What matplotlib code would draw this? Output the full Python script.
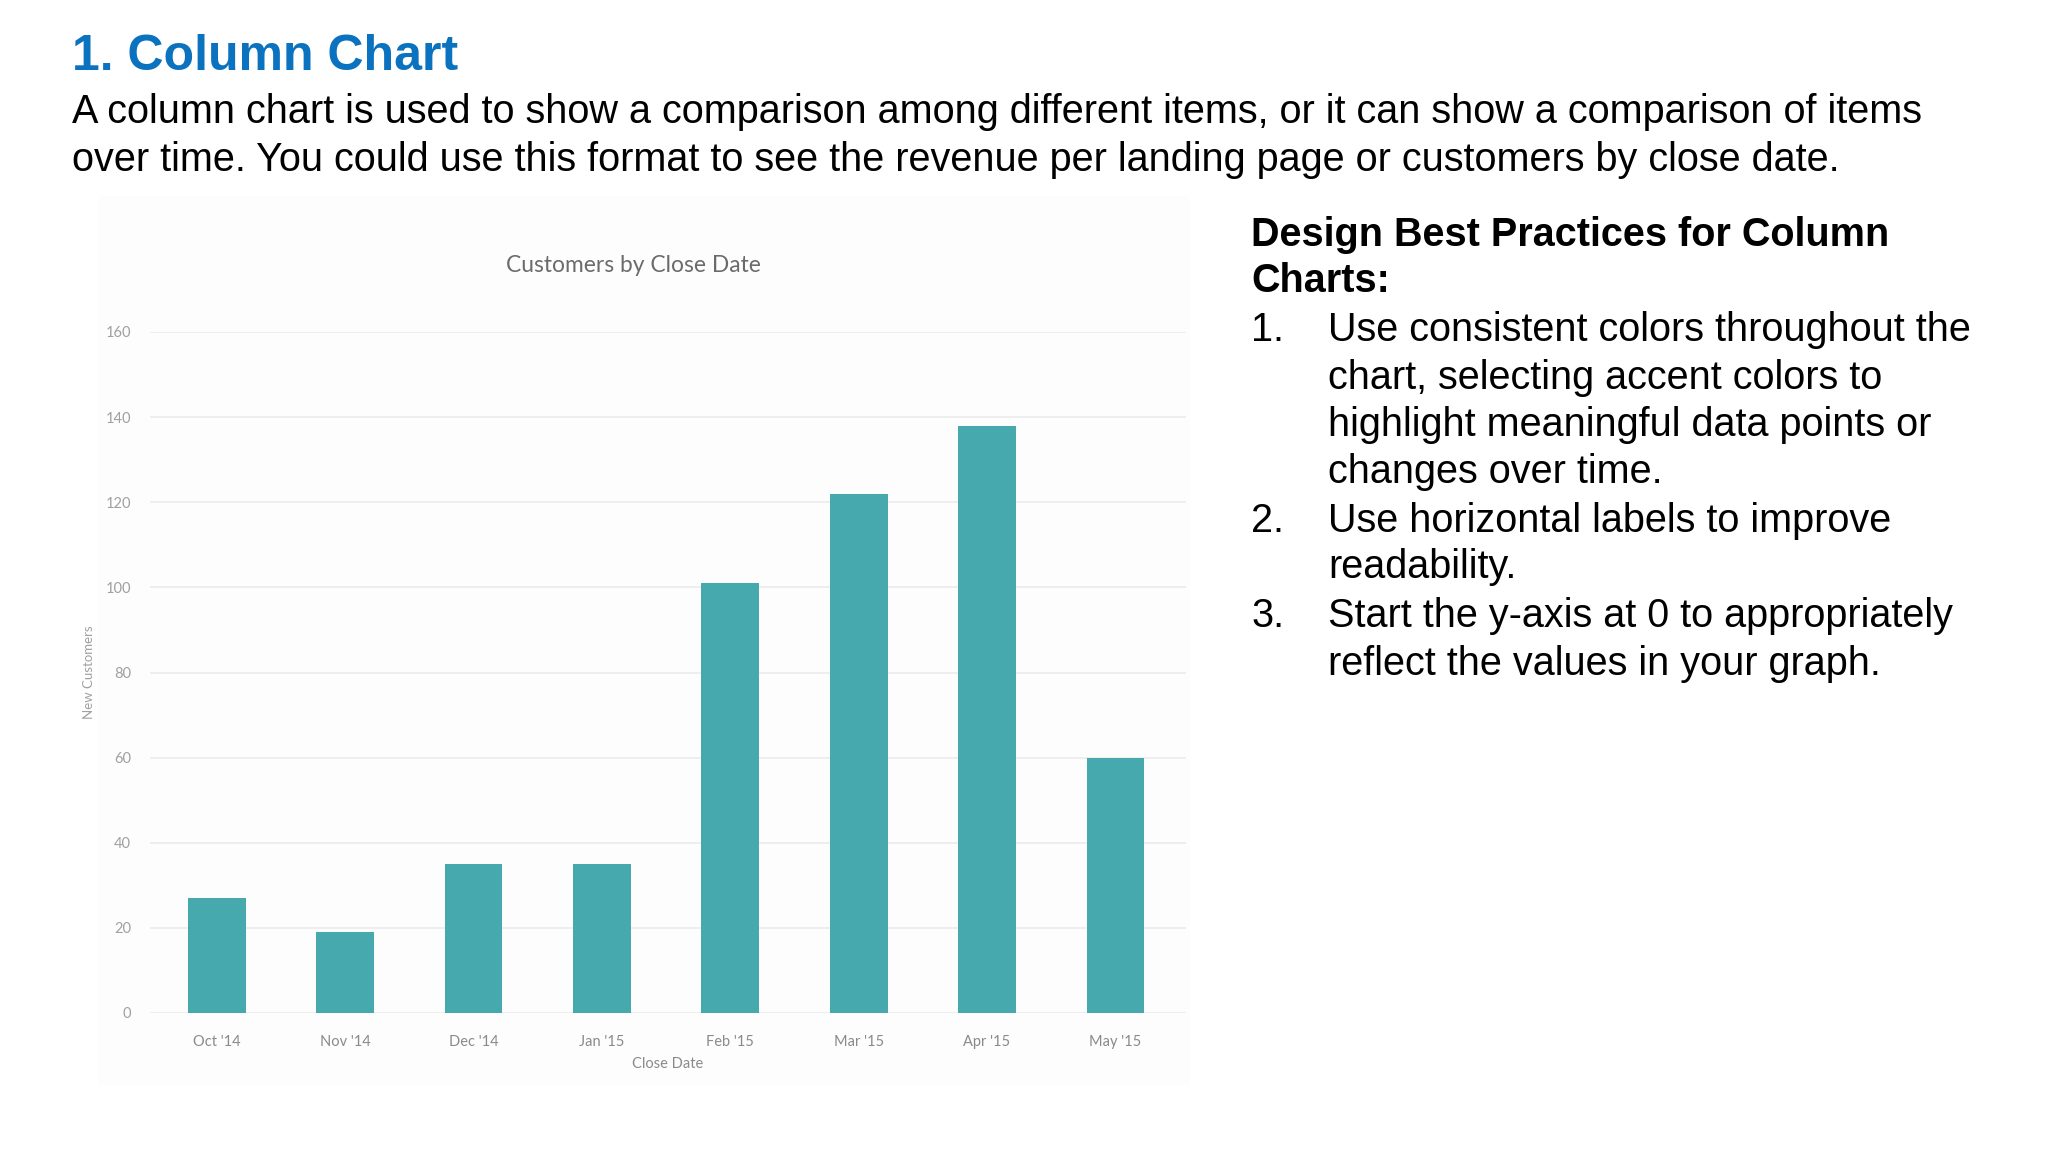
import matplotlib
matplotlib.use("Agg")
import matplotlib.pyplot as plt
from matplotlib.patches import Rectangle

# ---- data ----
months = ["Oct '14", "Nov '14", "Dec '14", "Jan '15", "Feb '15", "Mar '15", "Apr '15", "May '15"]
customers = [27, 19, 35, 35, 101, 122, 138, 60]
y_ticks = [0, 20, 40, 60, 80, 100, 120, 140, 160]

heading = "1. Column Chart"
intro_lines = [
    "A column chart is used to show a comparison among different items, or it can show a comparison of items",
    "over time. You could use this format to see the revenue per landing page or customers by close date.",
]
side_title = ["Design Best Practices for Column", "Charts:"]
side_items = [
    ("1.", ["Use consistent colors throughout the", "chart, selecting accent colors to",
            "highlight meaningful data points or", "changes over time."]),
    ("2.", ["Use horizontal labels to improve", "readability."]),
    ("3.", ["Start the y-axis at 0 to appropriately", "reflect the values in your graph."]),
]

W, H = 2048, 1152
fig = plt.figure(figsize=(W / 100, H / 100), dpi=100)
fig.patch.set_facecolor("white")

def fx(px):
    return px / W

def fy(py):
    return 1 - py / H

# subtle panel behind the chart screenshot
fig.patches.append(Rectangle((fx(98), fy(1085)), fx(1190 - 98), (1085 - 196) / H,
                             transform=fig.transFigure, facecolor="#fdfdfe",
                             edgecolor="none", zorder=-5))

# ---- chart ----
ax = fig.add_axes([fx(150), fy(1013), fx(1186 - 150), (1013 - 332) / H])
ax.set_zorder(2)
ax.set_facecolor("none")
x = list(range(len(months)))
ax.bar(x, customers, width=0.45, color="#45a9ae", zorder=3)
ax.set_xlim(-0.52, 7.55)
ax.set_ylim(0, 160)
ax.set_yticks(y_ticks)
ax.set_yticklabels([str(v) for v in y_ticks], fontsize=10.5, color="#a0a0a0", family="Lato")
ax.set_xticks(x)
ax.set_xticklabels(months, fontsize=10.5, color="#8a8a8a", family="Lato")
ax.tick_params(axis="both", length=0)
ax.tick_params(axis="y", pad=13.5)
ax.tick_params(axis="x", pad=15.5)
ax.grid(axis="y", color="#ececec", linewidth=1.2, zorder=0)
for s in ax.spines.values():
    s.set_visible(False)
ax.set_xlabel("Close Date", fontsize=10.5, color="#8a8a8a", family="Lato", labelpad=6)
ax.set_ylabel("New Customers", fontsize=9.5, color="#a0a0a0", family="Lato", labelpad=8)

fig.text(fx(633), fy(266), "Customers by Close Date", fontsize=16.4, color="#6b6b6b",
         family="Lato", ha="center", va="center")

# ---- slide text ----
fig.text(fx(72), fy(57), heading, fontsize=36, color="#0b72bf", weight="bold",
         family="Liberation Sans", ha="left", va="center")
for i, line in enumerate(intro_lines):
    fig.text(fx(72), fy(112 + i * 48), line, fontsize=28.5, color="black",
             family="Liberation Sans", ha="left", va="center")

ys = [234.5, 281.5, 329.8, 378, 425, 472, 520.5, 567.5, 616, 664]
k = 0
for line in side_title:
    fig.text(fx(1251), fy(ys[k]), line, fontsize=28.5, weight="bold", color="black",
             family="Liberation Sans", ha="left", va="center")
    k += 1
for num, lines in side_items:
    fig.text(fx(1251), fy(ys[k]), num, fontsize=28.5, color="black",
             family="Liberation Sans", ha="left", va="center")
    for line in lines:
        fig.text(fx(1328), fy(ys[k]), line, fontsize=28.5, color="black",
                 family="Liberation Sans", ha="left", va="center")
        k += 1

fig.savefig("out.png", dpi=100)
